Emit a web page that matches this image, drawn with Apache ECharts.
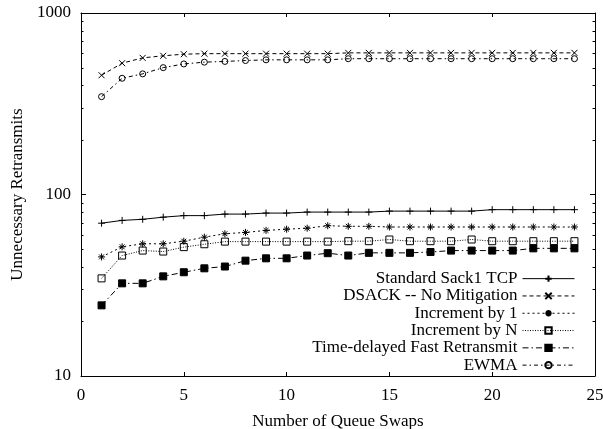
<!DOCTYPE html>
<html>
<head>
<meta charset="utf-8">
<script src="https://cdn.jsdelivr.net/npm/echarts@6/dist/echarts.min.js"></script>
<style>
html, body { margin: 0; padding: 0; background: #fff; }
#chart { width: 603px; height: 429px; }
</style>
</head>
<body>
<div id="chart"></div>
<script>
const swaps = [1, 2, 3, 4, 5, 6, 7, 8, 9, 10, 11, 12, 13, 14, 15, 16, 17, 18, 19, 20, 21, 22, 23, 24];
const standardSack = [69.5, 72, 73, 75, 76.5, 76.5, 78, 78, 79, 79, 80, 80, 80, 80, 81, 81, 81, 81, 81, 82.5, 82.5, 82.5, 82.5, 82.5];
const dsackNoMit = [454, 529, 566, 581, 593, 597, 597, 597, 597, 597, 597, 597, 603, 603, 603, 603, 603, 603, 603, 603, 603, 603, 603, 603];
const incBy1 = [45.3, 51.5, 53.5, 53.5, 55.3, 58.2, 60.8, 61.8, 63.4, 64.4, 65.2, 67.3, 66.8, 66.8, 66.2, 66.2, 66.2, 66.2, 66.2, 66.2, 66.2, 66.2, 66.2, 66.2];
const incByN = [34.5, 46.1, 49.1, 48.5, 51.3, 53.2, 55, 55, 55, 55, 55, 55, 55.3, 55.3, 56.5, 55.3, 55.3, 55.3, 56.5, 55.3, 55.3, 55.3, 55.3, 55.3];
const timeDelayed = [24.5, 32.4, 32.4, 35.4, 37.3, 39.2, 40.1, 43.2, 44.5, 44.5, 46.1, 47.5, 46.1, 47.7, 47.7, 47.7, 48.2, 49.1, 49.1, 49.1, 49.1, 50.5, 50.5, 50.5];
const ewma = [346, 437, 462, 500, 524, 536, 541, 547, 552, 552, 552, 552, 560, 560, 560, 560, 560, 560, 560, 560, 560, 560, 560, 560];
const yMinorTicks = [20, 30, 40, 50, 60, 70, 80, 90, 200, 300, 400, 500, 600, 700, 800, 900];

const font = 'Liberation Serif';
const fs = 17;
const pairs = vals => swaps.map((x, i) => [x, vals[i]]);

function makeSeries(name, vals, symbol, size, dash, fill) {
    return {
        name: name,
        type: 'line',
        data: pairs(vals),
        symbol: symbol,
        symbolSize: size,
        showSymbol: true,
        animation: false,
        lineStyle: { color: '#000', width: 1, type: dash },
        itemStyle: { color: fill, borderColor: '#000', borderWidth: 1 },
        emphasis: { disabled: true }
    };
}

const chart = echarts.init(document.getElementById('chart'));

const series = [
    makeSeries('Standard Sack1 TCP', standardSack, 'path://M0,5L10,5M5,0L5,10', 7, 'solid', '#000'),
    makeSeries('DSACK -- No Mitigation', dsackNoMit, 'path://M0,0L10,10M10,0L0,10', 6, [4, 3], '#000'),
    makeSeries('Increment by 1', incBy1, 'path://M0,5L10,5M5,0L5,10M1.5,1.5L8.5,8.5M8.5,1.5L1.5,8.5', 7, [2, 3], '#000'),
    makeSeries('Increment by N', incByN, 'rect', 7, [1, 1.5], 'transparent'),
    makeSeries('Time-delayed Fast Retransmit', timeDelayed, 'rect', 7, [6, 3, 1.5, 3], '#000'),
    makeSeries('EWMA', ewma, 'circle', 6, [4, 3, 1.5, 3], 'transparent')
];

const tickLabel = { fontFamily: font, fontSize: fs, color: '#000' };

chart.setOption({
    backgroundColor: '#fff',
    grid: { left: 81, right: 8, top: 13, bottom: 53, outerBoundsMode: 'none', containLabel: false },
    legend: {
        orient: 'vertical',
        right: 23,
        top: 265,
        align: 'right',
        itemWidth: 52,
        itemHeight: 8,
        itemGap: 0,
        selectedMode: false,
        lineStyle: { width: 1 },
        textStyle: { fontFamily: font, fontSize: fs, color: '#000', lineHeight: 17.3 },
        data: series.map(s => s.name)
    },
    xAxis: [{
        type: 'value',
        min: 0,
        max: 25,
        interval: 5,
        name: 'Number of Queue Swaps',
        nameLocation: 'middle',
        nameGap: 37,
        nameTextStyle: { fontFamily: font, fontSize: fs, color: '#000' },
        axisLine: { onZero: false, lineStyle: { color: '#000', width: 1 } },
        axisTick: { inside: true, length: 4, lineStyle: { color: '#000' } },
        axisLabel: Object.assign({ margin: 11 }, tickLabel),
        splitLine: { show: false }
    }, {
        type: 'value',
        position: 'top',
        min: 0,
        max: 25,
        interval: 5,
        axisLine: { onZero: false, lineStyle: { color: '#000', width: 1 } },
        axisTick: { inside: true, length: 4, lineStyle: { color: '#000' } },
        axisLabel: { show: false },
        splitLine: { show: false }
    }],
    yAxis: [{
        type: 'log',
        logBase: 10,
        min: 10,
        max: 1000,
        name: 'Unnecessary Retransmits',
        nameLocation: 'middle',
        nameGap: 47,
        nameTextStyle: { fontFamily: font, fontSize: fs, color: '#000' },
        axisLine: { onZero: false, lineStyle: { color: '#000', width: 1 } },
        axisTick: { inside: true, length: 5, lineStyle: { color: '#000' } },
        axisLabel: Object.assign({ margin: 10, formatter: v => String(Math.round(v)) }, tickLabel),
        splitLine: { show: false }
    }, {
        type: 'log',
        logBase: 10,
        min: 10,
        max: 1000,
        position: 'right',
        axisLine: { onZero: false, lineStyle: { color: '#000', width: 1 } },
        axisTick: { inside: true, length: 5, lineStyle: { color: '#000' } },
        axisLabel: { show: false },
        splitLine: { show: false }
    }],
    series: series
});

// minor log ticks on left and right edges
const xl = chart.convertToPixel({ xAxisIndex: 0 }, 0);
const xr = chart.convertToPixel({ xAxisIndex: 0 }, 25);
const minor = [];
yMinorTicks.forEach(v => {
    const y = Math.round(chart.convertToPixel({ yAxisIndex: 0 }, v)) + 0.5;
    minor.push({ type: 'line', silent: true, shape: { x1: xl, y1: y, x2: xl + 2.5, y2: y }, style: { stroke: '#000', lineWidth: 1 } });
    minor.push({ type: 'line', silent: true, shape: { x1: xr - 2.5, y1: y, x2: xr, y2: y }, style: { stroke: '#000', lineWidth: 1 } });
});
chart.setOption({ graphic: minor });
</script>
</body>
</html>
